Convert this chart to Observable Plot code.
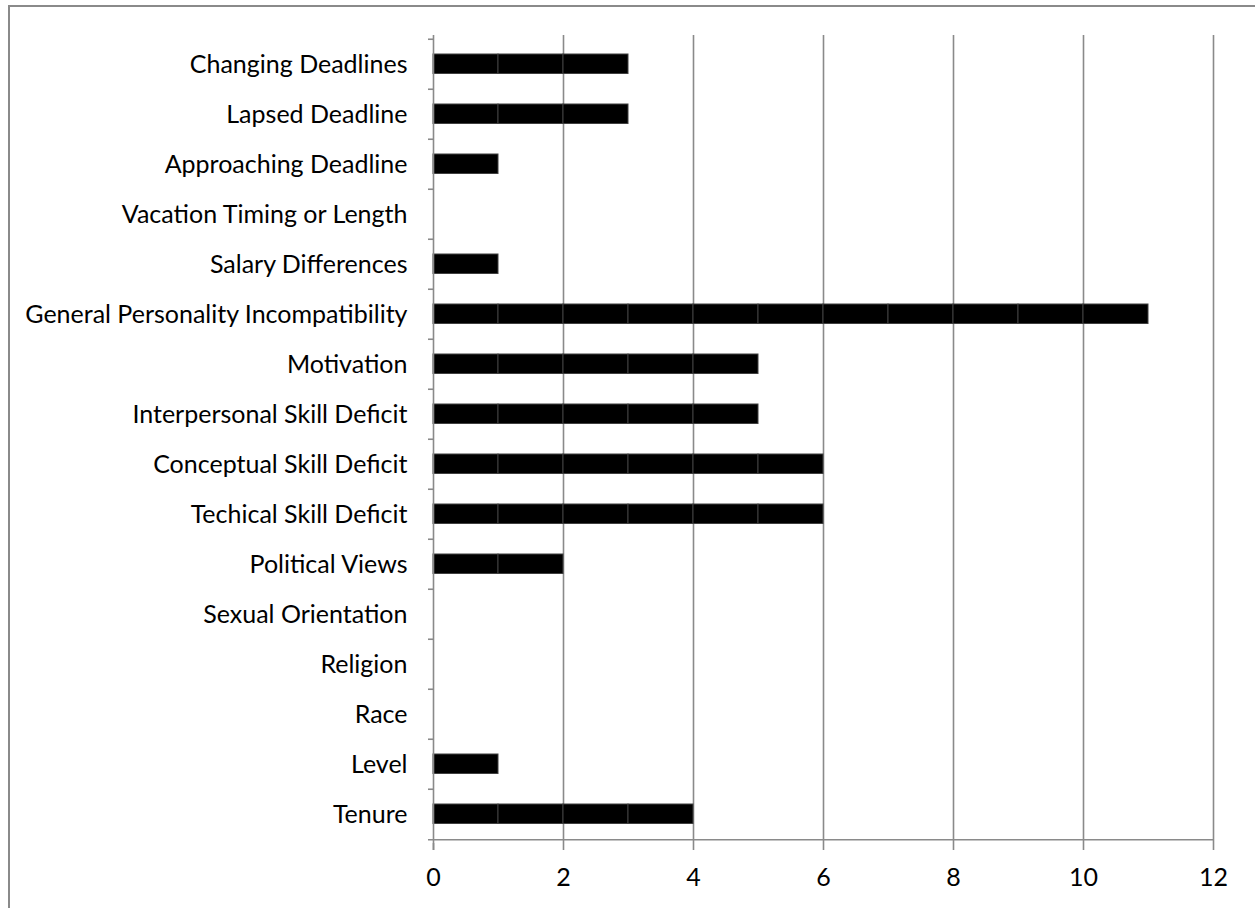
<!DOCTYPE html>
<html>
<head>
<meta charset="utf-8">
<script src="https://cdn.jsdelivr.net/npm/d3@7"></script>
<script src="https://cdn.jsdelivr.net/npm/@observablehq/plot@0.6"></script>
<style>
  html, body { margin: 0; padding: 0; background: #fff; overflow: hidden; }
  #wrap { position: relative; width: 1255px; height: 908px; }
  #frame { position: absolute; left: 8px; top: 5px; width: 1400px; height: 1000px; border: 2px solid #8a8a8a; box-sizing: border-box; }
  #chart { position: absolute; left: 0; top: 0; }
</style>
</head>
<body>
<div id="wrap"><div id="frame"></div><div id="chart"></div></div>
<script>
const categories = [
  "Changing Deadlines", "Lapsed Deadline", "Approaching Deadline", "Vacation Timing or Length",
  "Salary Differences", "General Personality Incompatibility", "Motivation", "Interpersonal Skill Deficit",
  "Conceptual Skill Deficit", "Techical Skill Deficit", "Political Views", "Sexual Orientation",
  "Religion", "Race", "Level", "Tenure"
];
const counts = [3, 3, 1, 0, 1, 11, 5, 5, 6, 6, 2, 0, 0, 0, 1, 4];
const xTicks = [0, 2, 4, 6, 8, 10, 12];

// one unit segment per counted item
const segments = [];
categories.forEach((c, i) => {
  for (let k = 0; k < counts[i]; k++) segments.push({category: c, x1: k, x2: k + 1});
});

const font = "Lato, 'Open Sans', sans-serif";
const grid = "#8a8a8a";
const H = 908, mt = 35, mb = 65;
const bw = (H - mt - mb) / categories.length;

const plot = Plot.plot({
  width: 1255,
  height: H,
  marginLeft: 433,
  marginRight: 42,
  marginTop: mt,
  marginBottom: mb,
  style: {fontFamily: font, fontSize: "25px", color: "#000", background: "transparent", overflow: "visible"},
  x: {domain: [0, 12]},
  y: {domain: categories, padding: 0},
  marks: [
    Plot.gridX(xTicks.filter(d => d > 0), {stroke: grid, strokeOpacity: 1, strokeWidth: 1.6}),
    Plot.barX(segments, {x1: "x1", x2: "x2", y: "category", fill: "#000", stroke: "#404040", strokeWidth: 1, insetTop: 15, insetBottom: 15.5}),
    Plot.ruleX([0], {stroke: grid, strokeWidth: 1.6, insetBottom: -7}),
    Plot.ruleY(categories, {y: d => d, x1: -0.077, x2: 0, dy: -bw / 2, stroke: grid, strokeWidth: 1.6}),
    Plot.ruleY(categories.slice(-1), {y: d => d, x1: -0.077, x2: 12, dy: bw / 2, stroke: grid, strokeWidth: 1.6}),
    Plot.axisX({ticks: xTicks, tickSize: 7, stroke: grid, strokeWidth: 1.6, tickPadding: 18, fontSize: 25, tickFormat: d => String(d), label: null}),
    Plot.axisY({tickSize: 0, tickPadding: 26, fontSize: 25, label: null})
  ]
});
document.getElementById("chart").appendChild(plot);
</script>
</body>
</html>
